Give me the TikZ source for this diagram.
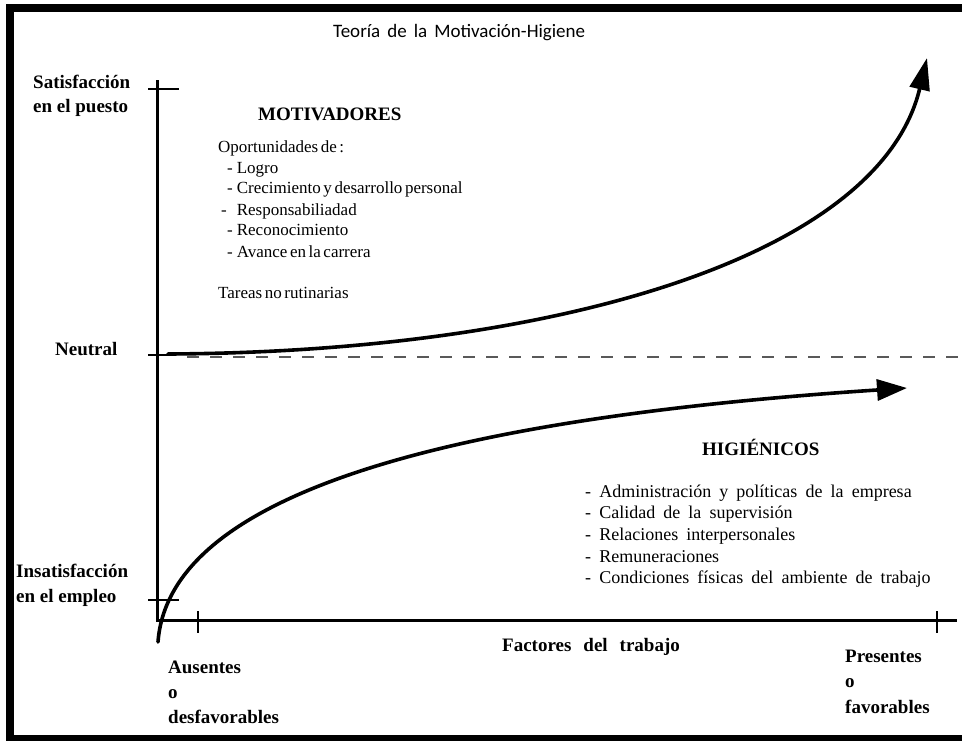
\documentclass[tikz,border=0pt]{standalone}
\usepackage{fontspec}
\setmainfont{Liberation Serif}
\newfontfamily\titlefont{Carlito}
\usepackage{tikz}
\usetikzlibrary{positioning,arrows.meta}

\newcommand{\tightsp}{\spaceskip=0.15em plus 0.05em\relax}
\newcommand{\widesp}{\spaceskip=0.45em plus 0.05em\relax}
\newcommand{\titlesp}{\spaceskip=0.37em\relax}
\newcommand{\factsp}{\spaceskip=0.63em\relax}
\newcommand{\dsh}{-\hspace{4pt}}

\begin{document}
\begin{tikzpicture}[x=1pt,y=-1pt,
	lbl/.style={inner sep=0,anchor=base west,font={\bfseries\fontsize{19}{22}\selectfont}},
	motiv/.style={inner sep=0,anchor=base west,font={\fontsize{17}{20}\selectfont\tightsp}},
	higi/.style={inner sep=0,anchor=base west,font={\fontsize{18}{21}\selectfont\widesp}},
	axis/.style={line width=3pt},
	tick/.style={line width=1.2pt},
	curve/.style={line width=3.6pt,line cap=round}]
		\useasboundingbox (0,0) rectangle (962,740);

		%frame
		\draw[line width=8pt] (962,8) -- (10,8) -- (10,739) -- (962,739);

		%title
		\node[inner sep=0,anchor=base west,font={\titlefont\fontsize{19}{22}\selectfont\titlesp}] (title) at (333,37) {Teoría de la Motivación-Higiene};

		%axes
		\coordinate (top) at (157,80);
		\coordinate (o) at (157,620);
		\coordinate (right) at (957,620);
		\draw[axis] (top) -- (o) -- (right);

		%ticks
		\draw[tick] (148,89) -- (179,89);
		\draw[tick] (148,355) -- (170,355);
		\draw[tick] (148,600) -- (179,600);
		\draw[tick] (198,611) -- (198,633);
		\draw[tick] (937,611) -- (937,633);

		%neutral line
		\draw[line width=2pt,color=black!65,dash pattern=on 12pt off 11pt] (187,357) -- (958,357);

		%curves
		\coordinate (m0) at (168,354);
		\coordinate (mtip) at (927,58);
		\draw[curve,-{Triangle[length=32pt,width=20pt]}] (m0) .. controls (560,352) and (880,255) .. (mtip);
		\coordinate (h0) at (158,642);
		\coordinate (htip) at (907,388);
		\draw[curve,-{Triangle[length=30pt,width=21pt]}] (h0) .. controls (170,480) and (500,415) .. (htip);

		%axis labels
		\node[lbl] (sat1) at (33,88) {Satisfacción};
		\node[lbl] (sat2) at (33,112) {en el puesto};
		\node[lbl] (neutral) at (55,355) {Neutral};
		\node[lbl] (ins1) at (16,577) {Insatisfacción};
		\node[lbl] (ins2) at (16,602) {en el empleo};
		\node[lbl] (aus1) at (168,673) {Ausentes};
		\node[lbl] (aus2) at (168,698) {o};
		\node[lbl] (aus3) at (168,723) {desfavorables};
		\node[lbl] (pre1) at (845,662) {Presentes};
		\node[lbl] (pre2) at (845,687) {o};
		\node[lbl] (pre3) at (845,713) {favorables};
		\node[lbl,font={\bfseries\fontsize{19}{22}\selectfont\factsp}] (factores) at (502,651) {Factores del trabajo};

		%motivators
		\node[lbl] (motiv) at (258,120) {MOTIVADORES};
		\node[motiv] (m1) at (218,152) {Oportunidades de :};
		\node[motiv] (m2) at (227,173) {\dsh Logro};
		\node[motiv] (m3) at (227,193) {\dsh Crecimiento y desarrollo personal};
		\node[motiv] (m4) at (221,215) {-\hspace{10pt}Responsabiliadad};
		\node[motiv] (m5) at (227,235) {\dsh Reconocimiento};
		\node[motiv] (m6) at (227,257) {\dsh Avance en la carrera};
		\node[motiv] (m7) at (218,298) {Tareas no rutinarias};

		%hygiene factors
		\node[lbl] (higi) at (702,455) {HIGIÉNICOS};
		\node[higi] (h1) at (585,497) {- Administración y políticas de la empresa};
		\node[higi] (h2) at (585,518) {- Calidad de la supervisión};
		\node[higi] (h3) at (585,540) {- Relaciones interpersonales};
		\node[higi] (h4) at (585,562) {- Remuneraciones};
		\node[higi] (h5) at (585,583) {- Condiciones físicas del ambiente de trabajo};
	\end{tikzpicture}
\end{document}
